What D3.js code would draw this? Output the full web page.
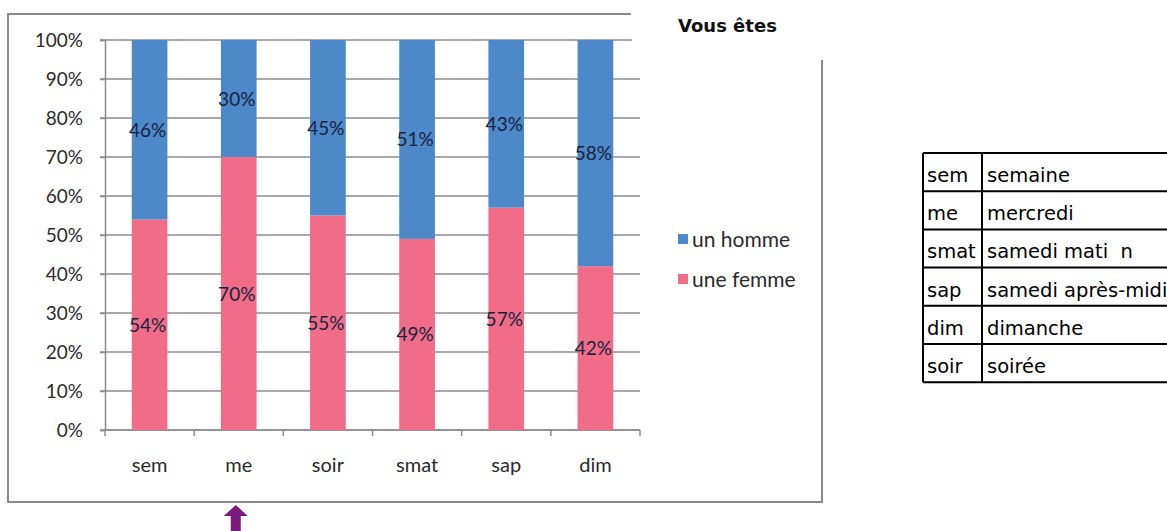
<!DOCTYPE html>
<html>
<head>
<meta charset="utf-8">
<script src="https://cdn.jsdelivr.net/npm/d3@7"></script>
<style>
  body { margin: 0; background: #fff; }
  svg { display: block; }
</style>
</head>
<body>
<div id="chart"></div>
<script>
// data
var categories = ["sem", "me", "soir", "smat", "sap", "dim"];
var femme = [54, 70, 55, 49, 57, 42];
var homme = [46, 30, 45, 51, 43, 58];
var yTicks = [0, 10, 20, 30, 40, 50, 60, 70, 80, 90, 100];
var seriesNames = ["un homme", "une femme"];
var abbrevs = ["sem", "me", "smat", "sap", "dim", "soir"];
var meanings = ["semaine", "mercredi", "samedi mati  n", "samedi après-midi", "dimanche", "soirée"];

var svgWidth = 1167;
var svgHeight = 531;
var blue = "#4d88c9";
var pink = "#f06c88";
var font = "Lato, 'Open Sans', sans-serif";

var svg = d3.select("#chart").append("svg")
  .attr("width", svgWidth)
  .attr("height", svgHeight);

// outer chart frame (top right corner hidden behind the title)
var frame = svg.append("g").attr("fill", "none").attr("stroke", "#8a8a8a").attr("stroke-width", 2);
frame.append("path").attr("d", "M631,14 H8 V502 H822 V60");

// scales
var plot = {left: 105, right: 640, top: 40, bottom: 430};
var xScale = d3.scaleBand().domain(categories)
  .range([plot.left, plot.right]).paddingInner(0.6).paddingOuter(0.3);
var xEdges = d3.scaleBand().domain(categories).range([plot.left, plot.right]);
var yScale = d3.scaleLinear().domain([0, 100]).range([plot.bottom, plot.top]);

// gridlines
svg.append("g").selectAll("line")
  .data(yTicks)
  .enter()
  .append("line")
  .attr("x1", plot.left - 5)
  .attr("x2", plot.right)
  .attr("y1", d => yScale(d))
  .attr("y2", d => yScale(d))
  .attr("stroke", "#8c8c8c")
  .attr("stroke-width", 1.5);

// y axis
var yAxis = svg.append("g")
  .attr("transform", `translate(${plot.left},0)`)
  .call(d3.axisLeft(yScale).tickValues(yTicks).tickFormat(d => d + "%").tickSize(5).tickPadding(17));
yAxis.selectAll("path, line").attr("stroke", "#8c8c8c").attr("stroke-width", 1.5);
yAxis.selectAll("text").attr("font-family", font).attr("font-size", 19).attr("fill", "#2b2b2b");

// x axis with ticks on category boundaries
var xAxisG = svg.append("g").attr("transform", `translate(0,${plot.bottom})`);
xAxisG.append("line")
  .attr("x1", plot.left).attr("x2", plot.right)
  .attr("stroke", "#8c8c8c").attr("stroke-width", 1.5);
var edges = categories.map(c => xEdges(c)).concat([plot.right]);
xAxisG.selectAll(".edge")
  .data(edges)
  .enter()
  .append("line")
  .attr("x1", d => d).attr("x2", d => d)
  .attr("y1", 0).attr("y2", 6)
  .attr("stroke", "#8c8c8c").attr("stroke-width", 1.5);
xAxisG.selectAll(".cat")
  .data(categories)
  .enter()
  .append("text")
  .attr("x", d => xScale(d) + xScale.bandwidth() / 2)
  .attr("y", 42)
  .attr("text-anchor", "middle")
  .attr("font-family", font)
  .attr("font-size", 20)
  .attr("fill", "#2b2b2b")
  .text(d => d);

// stacked bars
var rows = categories.map((c, i) => ({cat: c, femme: femme[i], homme: homme[i]}));
var stacked = d3.stack().keys(["femme", "homme"])(rows);
var colors = {femme: pink, homme: blue};

var barGroup = svg.append("g");
stacked.forEach(function(layer) {
  barGroup.append("g").selectAll("rect")
    .data(layer)
    .enter()
    .append("rect")
    .attr("x", d => xScale(d.data.cat))
    .attr("width", xScale.bandwidth())
    .attr("y", d => yScale(d[1]))
    .attr("height", d => yScale(d[0]) - yScale(d[1]))
    .attr("fill", colors[layer.key]);

  barGroup.append("g").selectAll("text")
    .data(layer)
    .enter()
    .append("text")
    .attr("x", d => xScale(d.data.cat) + xScale.bandwidth() / 2 - 2)
    .attr("y", d => yScale((d[0] + d[1]) / 2) + 7)
    .attr("text-anchor", "middle")
    .attr("font-family", font)
    .attr("font-size", 19)
    .attr("fill", "#18243f")
    .text(d => (d[1] - d[0]) + "%");
});

// legend
var legend = svg.append("g").attr("transform", "translate(678,234)");
seriesNames.forEach(function(name, i) {
  var g = legend.append("g").attr("transform", `translate(0,${i * 40})`);
  g.append("rect").attr("width", 10).attr("height", 10).attr("fill", i === 0 ? blue : pink);
  g.append("text")
    .attr("x", 14).attr("y", 13)
    .attr("font-family", font)
    .attr("font-size", 21)
    .attr("fill", "#2b2b2b")
    .text(name);
});

// title, covering the frame corner
svg.append("rect").attr("x", 632).attr("y", 0).attr("width", 200).attr("height", 58).attr("fill", "#fff");
svg.append("text")
  .attr("x", 678).attr("y", 32)
  .attr("font-family", "'DejaVu Sans', sans-serif")
  .attr("font-weight", "bold")
  .attr("font-size", 18)
  .attr("fill", "#111")
  .text("Vous êtes");

// abbreviation table
var table = svg.append("g").attr("transform", "translate(923,153)");
var rowH = 38.2;
var col1 = 59;
table.selectAll(".row")
  .data(abbrevs)
  .enter()
  .append("g")
  .each(function(d, i) {
    var g = d3.select(this);
    g.append("text")
      .attr("x", 4).attr("y", i * rowH + 29)
      .attr("font-family", "'DejaVu Sans', sans-serif")
      .attr("font-size", 19.5)
      .attr("fill", "#000")
      .text(d);
    g.append("text")
      .attr("x", col1 + 5).attr("y", i * rowH + 29)
      .attr("font-family", "'DejaVu Sans', sans-serif")
      .attr("font-size", 19.5)
      .attr("fill", "#000")
      .style("white-space", "pre")
      .text(meanings[i]);
  });
var lines = table.append("g").attr("stroke", "#000").attr("stroke-width", 2);
d3.range(abbrevs.length + 1).forEach(function(i) {
  lines.append("line").attr("x1", 0).attr("x2", 250).attr("y1", i * rowH).attr("y2", i * rowH);
});
lines.append("line").attr("x1", 0).attr("x2", 0).attr("y1", 0).attr("y2", abbrevs.length * rowH);
lines.append("line").attr("x1", col1).attr("x2", col1).attr("y1", 0).attr("y2", abbrevs.length * rowH);

// purple arrow under "me"
var ax = xScale("me") + xScale.bandwidth() / 2 - 3;
svg.append("path")
  .attr("d", `M${ax},505 L${ax + 12},516 L${ax + 5},516 L${ax + 5},531 L${ax - 5},531 L${ax - 5},516 L${ax - 12},516 Z`)
  .attr("fill", "#7b1a7d");
</script>
</body>
</html>
